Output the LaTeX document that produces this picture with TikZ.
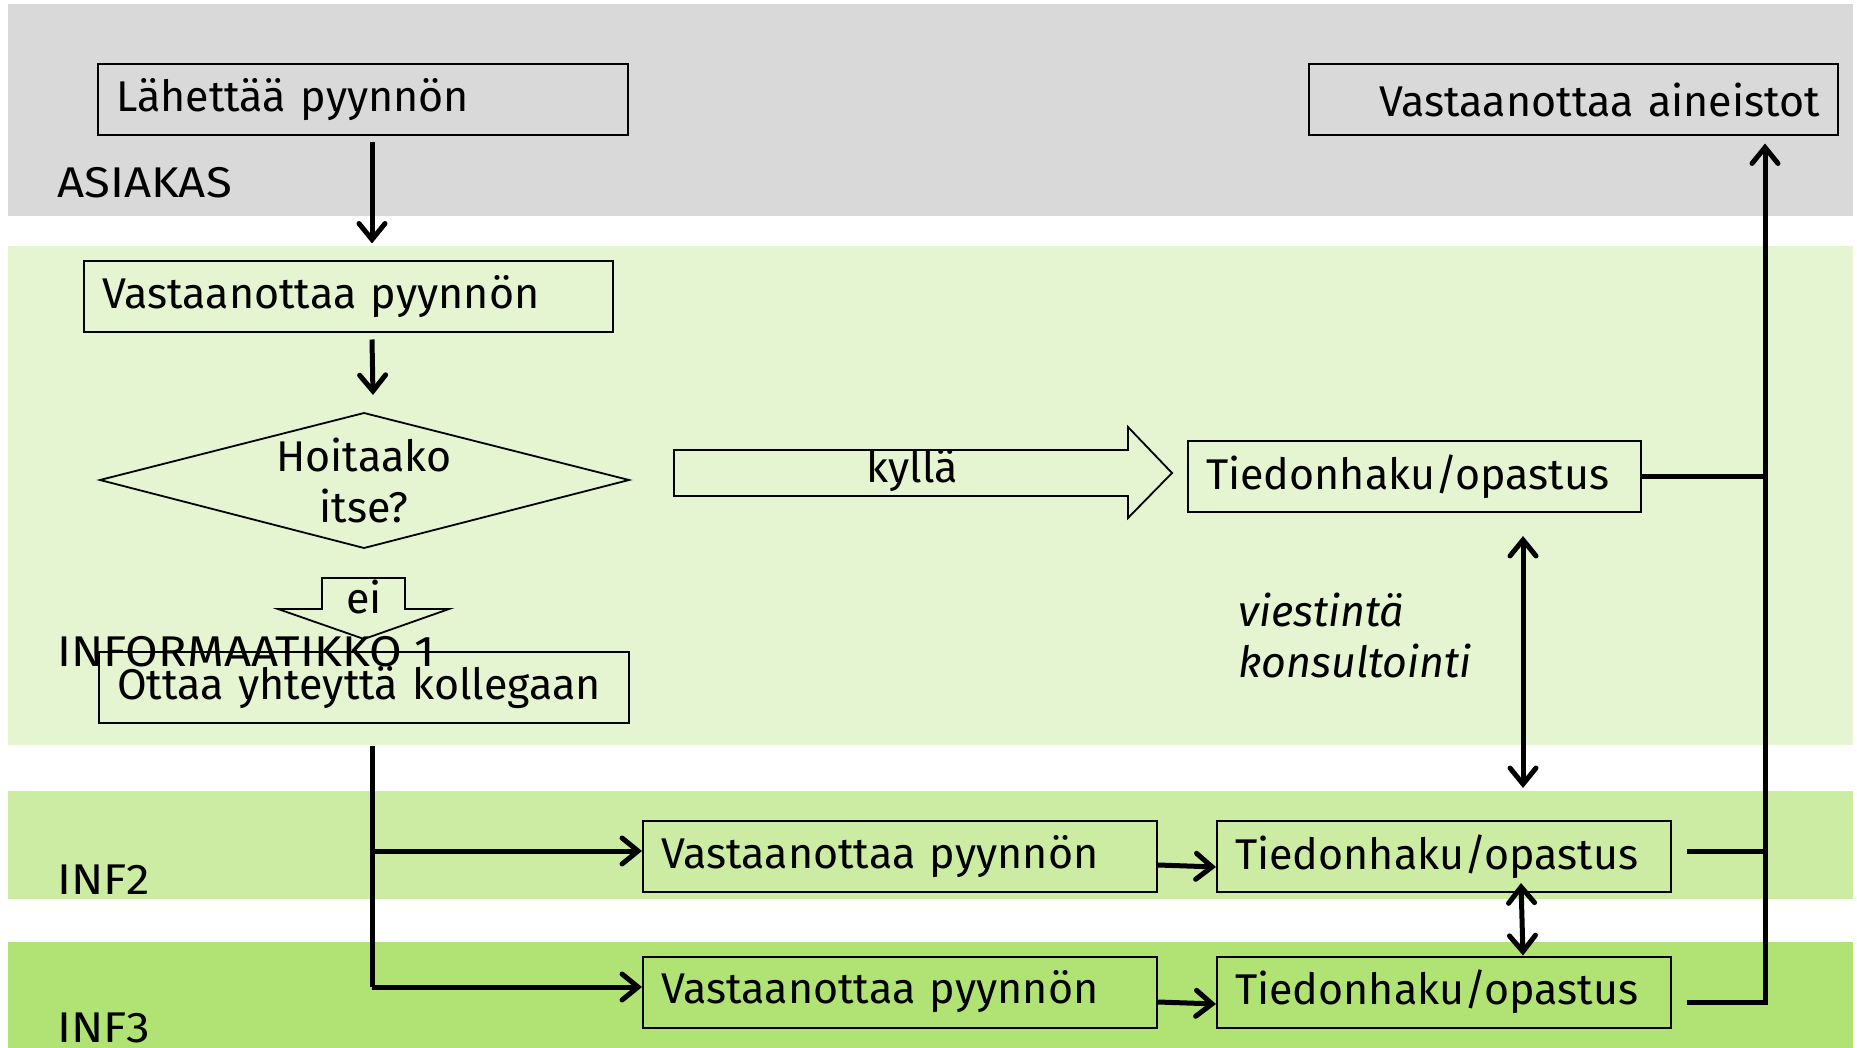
\documentclass[tikz,border=0pt]{standalone}
\usepackage{fontspec}
\setmainfont{Fira Sans}
\usetikzlibrary{arrows.meta}
\definecolor{bandgrey}{HTML}{D9D9D9}
\definecolor{bandone}{HTML}{E5F4D1}
\definecolor{bandtwo}{HTML}{CCECA3}
\definecolor{bandthree}{HTML}{B0E274}
\newcommand{\txtsize}{\fontsize{43}{51}\selectfont}
\newcommand{\widecaps}[1]{\scalebox{1.1}[1]{#1}}
\begin{document}
\begin{tikzpicture}[x=1pt,y=-1pt,
  box/.style={draw=black, line width=2pt, minimum height=71pt, inner xsep=18pt, inner ysep=0pt, font=\txtsize, anchor=center},
  lane/.style={font=\txtsize, anchor=base west, inner sep=0pt},
  plain/.style={font=\txtsize, inner sep=0pt, align=center},
  conn/.style={line width=5pt},
  arr/.style={line width=5pt, -{Straight Barb[length=16pt,width=26pt,line cap=round]}},
  darr/.style={line width=5pt, {Straight Barb[length=16pt,width=26pt,line cap=round]}-{Straight Barb[length=16pt,width=26pt,line cap=round]}},
  blockarrow/.style={draw=black, line width=1.8pt}
  ]
\useasboundingbox (0,0) rectangle (1857,1048);
% bands
\fill[bandgrey] (8,4) rectangle (1853,216);
\fill[bandone] (8,246) rectangle (1853,745);
\fill[bandtwo] (8,791) rectangle (1853,899);
\fill[bandthree] (8,942) rectangle (1853,1048);
% lane labels
\node[lane] (lasiakas) at (57,198) {\widecaps{ASIAKAS}};
\node[lane] (linf1) at (57,666) {\widecaps{INFORMAATIKKO 1}};
\node[lane] (linf2) at (57,894) {\widecaps{INF2}};
\node[lane] (linf3) at (57,1042) {\widecaps{INF3}};
% boxes
\node[box, text width=494pt, align=left] (lah) at (363,100) {Lähettää pyynnön};
\node[box, text width=493pt, align=right] (ain) at (1573.5,100) {Vastaanottaa aineistot};
\node[box, text width=493pt, align=left] (vast1) at (348.5,297) {Vastaanottaa pyynnön};
\node[box, text width=417pt, align=left] (tied1) at (1414.5,476.5) {Tiedonhaku/opastus};
\node[box, text width=494pt, align=left] (ottaa) at (364,687.5) {Ottaa yhteyttä kollegaan};
\node[box, text width=478pt, align=left] (vast2) at (900,856.5) {Vastaanottaa pyynnön};
\node[box, text width=418pt, align=left] (tied2) at (1444,856.5) {Tiedonhaku/opastus};
\node[box, text width=478pt, align=left] (vast3) at (900,992) {Vastaanottaa pyynnön};
\node[box, text width=418pt, align=left] (tied3) at (1444,992) {Tiedonhaku/opastus};
% decision diamond
\coordinate (dl) at (100,480);
\coordinate (dtop) at (364,413);
\coordinate (dr) at (629,480);
\coordinate (dbot) at (364,548);
\draw[line width=1.8pt] (dl) -- (dtop) -- (dr) -- (dbot) -- cycle;
\node[plain] (dtext) at (364,480) {Hoitaako\\itse?};
% kyllä block arrow
\draw[blockarrow] (674,450) -- (1128,450) -- (1128,427) -- (1172,473) -- (1128,518) -- (1128,496) -- (674,496) -- cycle;
\node[plain] (kylla) at (912,471) {kyllä};
% ei block arrow
\draw[blockarrow] (322,578) -- (405,578) -- (405,609) -- (449,609) -- (364,639) -- (278,609) -- (322,609) -- cycle;
\node[plain] (ei) at (364,597) {ei};
% italic note
\node[font=\txtsize\itshape, anchor=base west, inner sep=0pt, align=left] (note) at (1238,677) {viestintä\\konsultointi};
% connectors
\draw[arr] ([xshift=9pt,yshift=-6pt]lah.south) -- ([xshift=9pt,yshift=17pt]vast1.north -| lah.south);
\draw[arr] ([xshift=23.5pt,yshift=-6pt]vast1.south) -- ([xshift=9pt,yshift=18pt]dtop);
\coordinate (ltop) at (372,746);
\coordinate (b2) at (372,851);
\coordinate (b3) at (372,987);
\draw[conn] (ltop) -- (b3);
\draw[arr] (b2) -- (b2 -| vast2.west);
\draw[arr] (b3) -- (b3 -| vast3.west);
\draw[arr] ([yshift=-8.5pt]vast2.east) -- ([yshift=-10.5pt]tied2.west);
\draw[arr] ([yshift=-10pt]vast3.east) -- ([yshift=-12pt]tied3.west);
\draw[darr] ([xshift=108.5pt,yshift=-23pt]tied1.south) -- ([xshift=79pt,yshift=32pt]tied2.north);
\draw[darr] ([xshift=77pt,yshift=10pt]tied2.south) -- ([xshift=79pt]tied3.north);
\coordinate (rbot) at (1765,1002);
\draw[conn] (tied1.east) -- (tied1.east -| rbot);
\draw[conn] ([xshift=15pt,yshift=5.5pt]tied2.east) -- ([yshift=5.5pt]tied2.east -| rbot);
\draw[arr, shorten >=7pt, line join=miter] ([xshift=15pt,yshift=-10pt]tied3.east) -- (rbot) -- (rbot |- ain.south);
\end{tikzpicture}
\end{document}
